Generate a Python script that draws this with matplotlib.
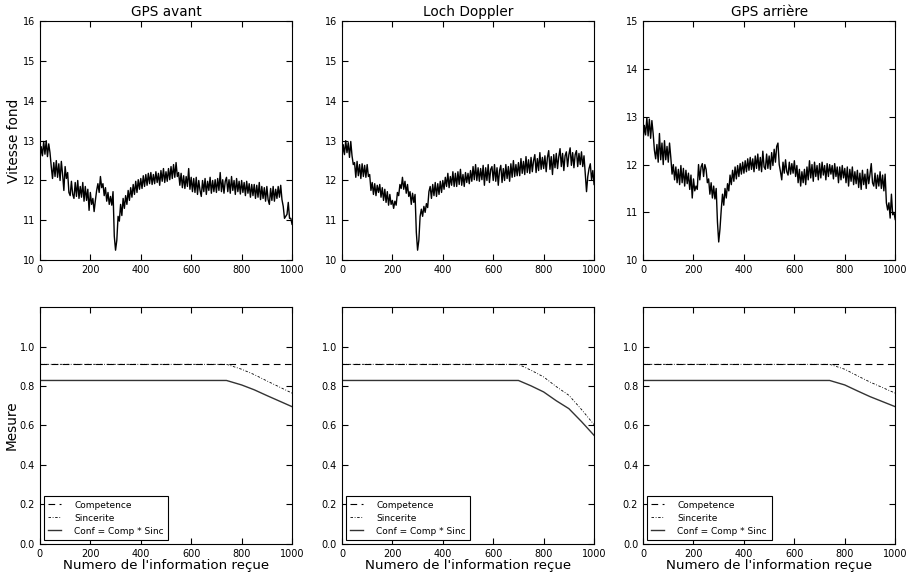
import numpy as np
import matplotlib
matplotlib.use('Agg')
import matplotlib.pyplot as plt
from matplotlib.ticker import FormatStrFormatter

# Sample index (one value every 5 receptions)
x_idx = np.arange(0, 1001, 5)

titles = ['GPS avant', 'Loch Doppler', 'GPS arrière']
vitesse_ylim = [(10, 16), (10, 16), (10, 15)]

gps_avant = [
    12.50, 12.85, 12.62, 12.98, 12.66, 13.00, 12.60, 12.92, 12.70, 12.35,
    12.05, 12.45, 12.10, 12.50, 12.08, 12.42, 12.00, 12.48, 12.15, 11.75,
    12.35, 12.05, 12.20, 11.70, 11.62, 11.98, 11.65, 11.55, 11.95, 11.60,
    12.00, 11.55, 11.85, 11.58, 11.95, 11.48, 11.85, 11.50, 11.78, 11.25,
    11.70, 11.40, 11.55, 11.22, 11.50, 11.75, 11.92, 11.70, 12.10, 11.82,
    11.92, 11.62, 11.82, 11.48, 11.70, 11.40, 11.60, 11.38, 11.72, 10.60,
    10.25, 10.50, 11.10, 10.98, 11.40, 11.12, 11.55, 11.30, 11.62, 11.40,
    11.75, 11.50, 11.82, 11.58, 11.90, 11.65, 11.98, 11.70, 12.02, 11.78,
    12.05, 11.80, 12.12, 11.85, 12.15, 11.88, 12.18, 11.92, 12.20, 11.90,
    12.15, 11.92, 12.22, 11.95, 12.18, 11.88, 12.25, 11.98, 12.30, 11.95,
    12.22, 11.98, 12.30, 12.02, 12.35, 12.05, 12.40, 12.08, 12.45, 12.10,
    12.20, 11.88, 12.18, 11.82, 12.12, 11.80, 12.10, 11.85, 12.30, 11.78,
    12.08, 11.72, 12.05, 11.70, 12.08, 11.65, 12.00, 11.75, 11.60, 12.00,
    11.72, 12.05, 11.65, 11.98, 11.75, 12.08, 11.68, 12.00, 11.72, 12.02,
    11.70, 12.05, 11.75, 12.20, 11.72, 12.02, 11.68, 11.98, 12.08, 11.72,
    12.02, 11.68, 12.10, 11.75, 12.00, 11.65, 12.05, 11.72, 11.98, 11.66,
    12.00, 11.70, 11.95, 11.62, 11.98, 11.68, 11.92, 11.58, 11.90, 11.62,
    11.90, 11.55, 11.88, 11.58, 11.95, 11.52, 11.85, 11.55, 11.82, 11.48,
    11.85, 11.52, 11.40, 11.80, 11.50, 11.85, 11.48, 11.78, 11.55, 11.85,
    11.58, 11.88, 11.52, 11.35, 11.05, 11.10, 11.15, 11.45, 11.05, 11.05,
    10.90,
]

loch_doppler = [
    12.55, 12.90, 12.65, 13.00, 12.70, 12.95, 12.58, 12.98, 12.62, 12.40,
    12.45, 12.08, 12.48, 12.12, 12.40, 12.05, 12.42, 12.10, 12.38, 12.08,
    12.40, 12.10, 12.15, 11.75, 11.95, 11.65, 11.92, 11.62, 11.88, 11.70,
    11.90, 11.58, 11.82, 11.50, 11.78, 11.45, 11.72, 11.38, 11.65, 11.40,
    11.50, 11.30, 11.48, 11.38, 11.70, 11.62, 11.90, 11.80, 12.08, 11.78,
    11.98, 11.68, 11.90, 11.60, 11.72, 11.40, 11.68, 11.45, 11.65, 10.70,
    10.25, 10.50, 11.10, 11.28, 11.10, 11.35, 11.20, 11.42, 11.32, 11.72,
    11.85, 11.55, 11.90, 11.62, 11.95, 11.60, 11.92, 11.65, 11.98, 11.70,
    12.00, 11.78, 12.08, 11.85, 12.18, 11.82, 12.10, 11.88, 12.22, 11.85,
    12.18, 11.85, 12.22, 11.90, 12.28, 11.88, 12.15, 11.85, 12.20, 11.95,
    12.18, 11.92, 12.25, 11.98, 12.35, 12.02, 12.40, 12.00, 12.32, 11.98,
    12.30, 12.02, 12.38, 11.88, 12.32, 12.00, 12.40, 11.95, 12.28, 12.35,
    12.00, 12.40, 11.98, 12.32, 11.88, 12.25, 12.38, 11.95, 12.30, 12.00,
    12.40, 12.05, 12.35, 11.98, 12.42, 12.08, 12.50, 12.10, 12.40, 12.12,
    12.45, 12.12, 12.55, 12.18, 12.48, 12.15, 12.60, 12.20, 12.52, 12.18,
    12.58, 12.22, 12.50, 12.65, 12.20, 12.55, 12.25, 12.70, 12.28, 12.58,
    12.30, 12.62, 12.22, 12.58, 12.75, 12.28, 12.60, 12.15, 12.65, 12.32,
    12.68, 12.30, 12.60, 12.80, 12.35, 12.68, 12.25, 12.62, 12.72, 12.35,
    12.65, 12.82, 12.38, 12.70, 12.32, 12.65, 12.75, 12.35, 12.68, 12.40,
    12.72, 12.35, 12.62, 12.15, 11.72, 12.10, 12.30, 12.42, 12.02, 12.25,
    11.90,
]

gps_arriere = [
    12.50, 12.82, 12.62, 12.98, 12.60, 12.95, 12.55, 12.92, 12.65, 12.30,
    12.12, 12.42, 12.05, 12.65, 12.10, 12.45, 12.00, 12.50, 12.10, 12.38,
    12.05, 12.45, 12.15, 11.80, 12.00, 11.68, 11.95, 11.62, 11.90, 11.58,
    11.98, 11.62, 11.92, 11.55, 11.88, 11.60, 11.82, 11.48, 11.78, 11.30,
    11.70, 11.45, 11.55, 11.48, 12.00, 11.68, 11.95, 12.02, 11.75, 12.00,
    11.90, 11.62, 11.70, 11.38, 11.62, 11.30, 11.55, 11.28, 11.50, 10.80,
    10.38, 10.65, 11.05, 11.38, 11.15, 11.50, 11.30, 11.60, 11.45, 11.78,
    11.58, 11.88, 11.65, 11.95, 11.70, 11.98, 11.75, 12.02, 11.80, 12.05,
    11.82, 12.08, 11.85, 12.12, 11.88, 12.15, 11.90, 12.12, 11.85, 12.18,
    11.92, 12.22, 11.88, 12.15, 11.85, 12.28, 11.95, 11.90, 12.22, 11.92,
    12.18, 11.90, 12.25, 11.98, 12.32, 12.05, 12.38, 12.45, 12.00, 11.85,
    11.68, 12.05, 11.82, 12.10, 11.85, 11.78, 12.05, 11.80, 12.02, 11.82,
    12.08, 11.75, 11.98, 11.62, 11.90, 11.55, 11.85, 11.62, 11.90, 11.58,
    11.95, 11.68, 12.08, 11.72, 12.00, 11.65, 12.05, 11.75, 11.98, 11.68,
    12.02, 11.72, 12.05, 11.78, 11.98, 11.68, 12.02, 11.75, 12.00, 11.80,
    11.98, 11.70, 12.02, 11.75, 11.95, 11.62, 11.95, 11.68, 11.98, 11.72,
    11.92, 11.62, 11.95, 11.55, 11.90, 11.65, 11.95, 11.58, 11.85, 11.60,
    11.88, 11.52, 11.82, 11.48, 11.88, 11.58, 11.80, 11.50, 11.90, 11.60,
    11.80, 12.02, 11.62, 11.55, 11.82, 11.50, 11.78, 11.55, 11.85, 11.50,
    11.78, 11.45, 11.80, 11.20, 11.05, 11.20, 10.88, 11.38, 10.95, 11.00,
    10.85,
]

vitesses = [gps_avant, loch_doppler, gps_arriere]

# Trust measures (competence constant, sincerity dropping at the end)
competence = 0.91
sinc_x = [
    [0, 740, 800, 850, 900, 950, 1000],
    [0, 700, 750, 800, 850, 900, 950, 1000],
    [0, 740, 800, 850, 900, 950, 1000],
]
sinc_y = [
    [0.91, 0.91, 0.885, 0.858, 0.826, 0.795, 0.764],
    [0.91, 0.91, 0.880, 0.846, 0.797, 0.753, 0.681, 0.604],
    [0.91, 0.91, 0.885, 0.852, 0.820, 0.792, 0.764],
]

plt.rcParams['font.family'] = 'DejaVu Sans'
plt.rcParams['xtick.direction'] = 'in'
plt.rcParams['ytick.direction'] = 'in'
plt.rcParams['xtick.top'] = True
plt.rcParams['ytick.right'] = True
plt.rcParams['xtick.major.size'] = 4
plt.rcParams['ytick.major.size'] = 4
plt.rcParams['axes.linewidth'] = 0.8

fig = plt.figure(figsize=(9.07, 5.73), dpi=100)
lefts = [0.044, 0.377, 0.709]
w = 0.278

for i in range(3):
    ax = fig.add_axes([lefts[i], 0.546, w, 0.417])
    ax.plot(x_idx, vitesses[i], color='black', linewidth=1.0)
    ax.set_xlim(0, 1000)
    ax.set_ylim(*vitesse_ylim[i])
    ax.set_xticks(range(0, 1001, 200))
    ax.tick_params(labelsize=7)
    ax.set_title(titles[i], fontsize=9.8, pad=4)
    if i == 0:
        ax.set_ylabel('Vitesse fond', fontsize=9.8, labelpad=1)

    bx = fig.add_axes([lefts[i], 0.051, w, 0.413])
    bx.plot([0, 1000], [competence, competence], color='black',
            dashes=(6, 4), linewidth=0.8, label='Competence')
    bx.plot(sinc_x[i], sinc_y[i], color='black', dashes=(3, 2, 1, 2),
            linewidth=0.6, label='Sincerite')
    conf = [competence * s for s in sinc_y[i]]
    bx.plot(sinc_x[i], conf, color='#333333', linestyle='-',
            linewidth=1.0, label='Conf = Comp * Sinc')
    bx.set_xlim(0, 1000)
    bx.set_ylim(0, 1.2)
    bx.set_xticks(range(0, 1001, 200))
    bx.set_yticks(np.arange(0, 1.01, 0.2))
    bx.yaxis.set_major_formatter(FormatStrFormatter('%.1f'))
    bx.tick_params(labelsize=7)
    bx.set_xlabel("Numero de l'information reçue", fontsize=9.6, labelpad=0)
    if i == 0:
        bx.set_ylabel('Mesure', fontsize=9.8, labelpad=1)
    leg = bx.legend(loc='lower left', fontsize=6.5, fancybox=False,
                    handlelength=1.4, handletextpad=1.5, labelspacing=0.45,
                    borderpad=0.5, borderaxespad=0.4, framealpha=1)
    leg.get_frame().set_edgecolor('black')
    leg.get_frame().set_linewidth(0.8)

fig.savefig('out.png', dpi=100, facecolor='white')
